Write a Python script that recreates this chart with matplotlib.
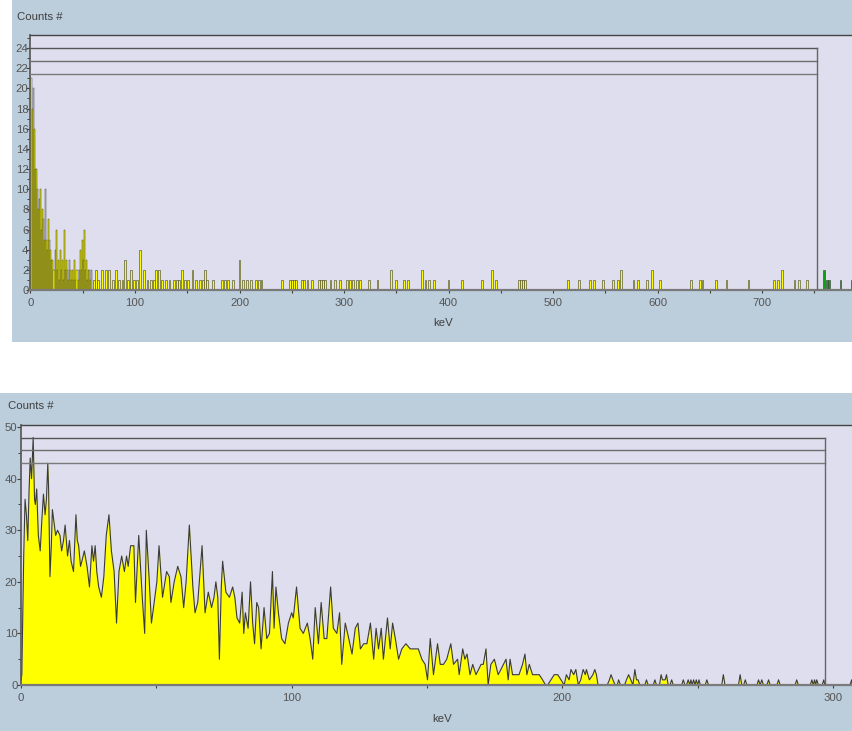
import matplotlib.pyplot as plt
from matplotlib.patches import Rectangle
from matplotlib.ticker import MultipleLocator

plt.rcParams['font.family'] = ['Liberation Sans', 'DejaVu Sans']

# Spectrum 1 (0 - 790 keV): channel counts, dense part 1 keV per bin from 0 keV
top_dense_counts = [21, 18, 20, 16, 12, 12, 10, 8, 9, 10,
                    6, 8, 7, 5, 10, 5, 4, 7, 5, 4,
                    3, 3, 2, 4, 6, 2, 3, 1, 4, 2,
                    3, 1, 6, 2, 3, 2, 1, 3, 2, 1,
                    2, 1, 3, 1, 2, 1, 2, 4, 2, 5,
                    3, 6, 2, 3, 1, 2, 2, 1, 2, 0]
# sparse channels above 60 keV
top_sparse_kev = [61, 63, 65, 68, 72, 75, 79, 82, 85, 88, 90, 93, 96, 99, 102, 105,
                  109, 112, 115, 118, 120, 123, 126, 130, 133, 137, 140, 142, 145, 148,
                  151, 155, 158, 162, 165, 167, 169, 175, 183, 186, 189, 194, 200, 203,
                  207, 211, 216, 219, 221, 241, 248, 250, 252, 254, 260, 262, 265, 269,
                  276, 278, 280, 282, 287, 291, 296, 303, 306, 309, 312, 315, 324, 332,
                  345, 350, 357, 361, 375, 378, 381, 386, 400, 413, 432, 442, 445, 467,
                  469, 471, 473, 514, 525, 535, 539, 548, 557, 562, 565, 577, 581, 590,
                  595, 602, 632, 641, 643, 656, 666, 687, 711, 715, 719, 731, 735, 743,
                  759, 762, 764, 775, 786]
top_sparse_counts = [1, 2, 1, 2, 2, 2, 1, 2, 1, 1, 3, 1, 2, 1, 1, 4,
                     2, 1, 1, 1, 2, 2, 1, 1, 1, 1, 1, 1, 2, 1,
                     1, 2, 1, 1, 1, 2, 1, 1, 1, 1, 1, 1, 3, 1,
                     1, 1, 1, 1, 1, 1, 1, 1, 1, 1, 1, 1, 1, 1,
                     1, 1, 1, 1, 1, 1, 1, 1, 1, 1, 1, 1, 1, 1,
                     2, 1, 1, 1, 2, 1, 1, 1, 1, 1, 1, 2, 1, 1,
                     1, 1, 1, 1, 1, 1, 1, 1, 1, 1, 2, 1, 1, 1,
                     2, 1, 1, 1, 1, 1, 1, 1, 1, 1, 2, 1, 1, 1,
                     2, 1, 1, 1, 1]
top_roi_end = 753
top_roi_levels = [24.0, 22.75, 21.45]

# Spectrum 2 (0 - 307 keV)
bottom_kev = [0.0, 0.3, 0.7, 1.0, 1.5, 2.0, 2.5, 3.0, 3.4, 3.9, 4.5, 5.0, 5.3, 5.8, 6.4,
              7.1, 7.7, 8.3, 8.9, 9.4, 9.9, 10.2, 10.7, 11.2, 11.6, 12.3, 12.8, 13.5,
              14.4, 15.0, 15.7, 16.3, 17.2, 17.9, 18.5, 19.4, 20.3, 20.8, 21.3, 22.0,
              22.5, 23.4, 24.4, 25.3, 26.2, 26.8, 27.4, 28.0, 28.7, 29.7, 30.6, 31.5,
              32.5, 33.4, 34.4, 35.3, 36.2, 37.2, 38.2, 39.0, 39.6, 40.5, 41.7, 42.3,
              43.5, 44.8, 45.7, 46.3, 47.3, 48.2, 49.2, 50.2, 51.0, 52.3, 53.8, 54.8,
              55.4, 56.6, 57.9, 59.1, 60.1, 61.0, 62.2, 63.5, 64.3, 65.3, 66.9, 68.0,
              69.2, 70.4, 71.3, 72.0, 72.7, 73.3, 74.0, 74.5, 75.7, 77.0, 78.2, 79.0,
              79.8, 80.8, 81.7, 82.3, 82.9, 83.9, 84.8, 85.6, 86.3, 87.1, 87.8, 88.7,
              89.8, 90.8, 91.8, 92.9, 93.5, 94.2, 95.1, 96.3, 97.5, 98.8, 100.0, 100.6,
              101.8, 103.1, 104.3, 105.8, 106.8, 107.8, 108.7, 109.9, 110.9, 112.0,
              113.0, 114.4, 115.4, 116.7, 117.7, 118.5, 119.8, 121.1, 122.3, 123.5,
              124.5, 125.4, 126.6, 127.8, 129.1, 130.3, 131.2, 132.1, 133.1, 133.9,
              135.4, 136.4, 137.3, 138.3, 139.5, 140.7, 142.2, 143.8, 145.0, 146.8,
              148.1, 149.3, 150.2, 151.2, 152.4, 153.9, 154.9, 156.1, 157.3, 158.8,
              159.8, 161.3, 161.9, 163.2, 164.0, 164.8, 165.9, 166.9, 168.1, 170.0,
              170.8, 171.8, 172.6, 173.6, 174.9, 176.3, 177.3, 179.2, 180.0, 180.7,
              181.6, 182.8, 184.0, 185.3, 186.2, 186.9, 187.8, 189.0, 190.2, 191.5,
              192.7, 193.8, 194.6, 195.8, 197.0, 198.3, 199.5, 200.7, 201.5, 202.5,
              203.2, 204.2, 205.0, 205.9, 206.8, 207.7, 208.5, 208.9, 210.0, 211.3,
              212.0, 212.6, 213.2, 216.6, 217.4, 218.0, 218.7, 219.5, 220.3, 220.8,
              221.5, 223.0, 223.7, 224.5, 225.3, 226.1, 226.8, 227.4, 228.0, 228.6,
              230.5, 231.1, 231.7, 233.6, 234.2, 234.8, 235.9, 236.5, 237.0, 237.5,
              238.0, 238.5, 239.1, 239.8, 240.4, 241.0, 244.1, 244.7, 245.3, 245.9,
              246.5, 247.1, 247.5, 248.0, 248.5, 249.0, 249.5, 250.0, 250.5, 251.0,
              252.8, 253.4, 254.0, 258.9, 259.5, 260.1, 265.1, 265.7, 266.3, 267.0,
              267.6, 268.2, 271.9, 272.5, 273.1, 273.7, 274.3, 275.6, 276.2, 276.8,
              279.3, 279.9, 280.5, 286.0, 286.6, 287.2, 291.6, 292.2, 292.7, 293.2,
              293.6, 294.0, 294.6, 296.0, 296.6, 297.0, 306.3, 306.9, 307.4]
bottom_counts = [1, 2, 15, 25, 36, 33, 28, 38, 44, 40, 48, 36, 35, 38, 29,
                 26, 32, 37, 33, 36, 43, 38, 21, 27, 34, 31, 29, 30,
                 29, 26, 28, 31, 25, 28, 24, 22, 33, 28, 27, 23,
                 24, 26, 23, 19, 27, 24, 27, 22, 19, 17, 21, 29,
                 33, 26, 22, 12, 22, 25, 22, 25, 23, 27, 27, 16,
                 29, 17, 10, 30, 21, 12, 16, 20, 27, 17, 22, 21,
                 16, 20, 23, 21, 15, 20, 31, 19, 14, 16, 27, 14,
                 18, 15, 17, 20, 17, 5, 19, 24, 18, 17, 19, 17,
                 13, 12, 18, 10, 14, 11, 20, 12, 8, 16, 15, 7,
                 15, 9, 10, 22, 11, 19, 14, 9, 8, 12, 14, 13,
                 19, 11, 10, 12, 9, 5, 15, 8, 16, 9,
                 9, 19, 11, 10, 14, 4, 12, 9, 6, 11,
                 12, 7, 8, 8, 12, 5, 11, 7, 11, 5,
                 13, 7, 12, 9, 5, 7, 8, 7, 7, 7,
                 5, 4, 1, 9, 2, 8, 4, 4, 5, 8,
                 4, 5, 2, 7, 5, 6, 2, 4, 2, 4,
                 4, 7, 0, 4, 5, 2, 3, 5, 1, 5,
                 2, 2, 2, 4, 6, 2, 4, 2, 2, 2,
                 1, 0, 0, 1, 2, 2, 1, 0, 2, 1,
                 3, 2, 3, 0, 1, 3, 2, 3, 1, 2,
                 3, 2, 0, 0, 1, 2, 1, 0, 0, 1,
                 0, 0, 1, 2, 1, 0, 3, 1, 1, 0,
                 0, 1, 0, 0, 1, 0, 0, 2, 1, 1,
                 1, 2, 0, 0, 1, 0, 0, 1, 0, 0,
                 1, 0, 1, 0, 1, 0, 1, 0, 1, 0,
                 0, 1, 0, 0, 2, 0, 0, 2, 0, 0,
                 1, 0, 0, 1, 0, 1, 0, 0, 1, 0,
                 0, 1, 0, 0, 1, 0, 0, 1, 0, 1,
                 0, 1, 0, 0, 1, 0, 0, 1, 0]
bottom_roi_end = 297
bottom_roi_levels = [47.9, 45.5, 43.0]

W, H = 853, 731
PANEL = '#bccddc'
PLOT = '#dedeee'
YELLOW = '#ffff00'
GREEN = '#10a010'
EDGE = '#3a3a3a'

fig = plt.figure(figsize=(W / 100, H / 100), dpi=100)
fig.patch.set_facecolor('white')


def px_rect(x0, y0, x1, y1):
    # pixel box (from top-left) -> figure fractions
    return [x0 / W, 1 - y1 / H, (x1 - x0) / W, (y1 - y0) / H]


for box in [(12, 0, W, 342), (0, 393, W, H)]:
    l, b, w, h = px_rect(*box)
    fig.patches.append(Rectangle((l, b), w, h, transform=fig.transFigure,
                                 facecolor=PANEL, edgecolor='none', zorder=-5))


def style_axes(ax, ymajor, yminor, ylen, ypad):
    ax.set_zorder(2)
    ax.set_facecolor(PLOT)
    ax.spines['right'].set_visible(False)
    ax.spines['top'].set_color('#454545')
    ax.spines['top'].set_linewidth(1.0)
    ax.spines['left'].set_color('#555555')
    ax.spines['left'].set_linewidth(1.2)
    ax.spines['bottom'].set_color('#7a7a7a')
    ax.spines['bottom'].set_linewidth(1.6)
    ax.xaxis.set_major_locator(MultipleLocator(100))
    ax.xaxis.set_minor_locator(MultipleLocator(50))
    ax.yaxis.set_major_locator(MultipleLocator(ymajor))
    ax.yaxis.set_minor_locator(MultipleLocator(yminor))
    ax.tick_params(axis='y', which='major', length=ylen, width=0.8, color='#404040',
                   labelsize=8.2, labelcolor='#555555', pad=ypad)
    ax.tick_params(axis='y', which='minor', length=ylen * 0.8, width=0.7, color='#404040')
    ax.tick_params(axis='x', which='both', length=2, width=0.8, color='#404040',
                   labelsize=8.2, labelcolor='#555555', pad=3.5)


def draw_roi(ax, end, levels):
    shades = ['#555555', '#6e6e6e', '#7a7a7a']
    for lev, c in zip(levels, shades):
        ax.plot([0, end], [lev, lev], color=c, lw=1.0, zorder=3)
    ax.plot([end, end], [0, levels[0]], color='#666666', lw=1.0, zorder=3)


# ---- top spectrum ----
ax1 = fig.add_axes(px_rect(30.5, 35, W, 290))
style_axes(ax1, 2, 1, 3, -1.5)
ax1.set_xlim(0, 787)
ax1.set_ylim(0, 25.3)

dense_kev = list(range(len(top_dense_counts)))
ax1.bar(dense_kev, top_dense_counts, width=1.0, align='edge', color=YELLOW,
        edgecolor='#303030', linewidth=0.3, zorder=2)
in_k = [k for k in top_sparse_kev if k <= top_roi_end]
in_c = [c for k, c in zip(top_sparse_kev, top_sparse_counts) if k <= top_roi_end]
out_k = [k for k in top_sparse_kev if k > top_roi_end]
out_c = [c for k, c in zip(top_sparse_kev, top_sparse_counts) if k > top_roi_end]
ax1.bar(in_k, in_c, width=1.8, color=YELLOW, edgecolor=EDGE, linewidth=0.4, zorder=2)
ax1.bar(out_k, out_c, width=1.8, color=GREEN, edgecolor=EDGE, linewidth=0.4, zorder=2)
draw_roi(ax1, top_roi_end, top_roi_levels)

# ---- bottom spectrum ----
ax2 = fig.add_axes(px_rect(21, 425, W, 685))
style_axes(ax2, 10, 5, 2.6, 0)
ax2.set_xlim(0, 307.4)
ax2.set_ylim(0, 50.4)

roi_k = [k for k in bottom_kev if k <= bottom_roi_end]
roi_c = bottom_counts[:len(roi_k)]
ax2.fill_between(roi_k, roi_c, 0, color=YELLOW, lw=0, zorder=2)
ax2.fill_between(bottom_kev[len(roi_k):], bottom_counts[len(roi_k):], 0,
                 color=GREEN, lw=0, zorder=2)
ax2.plot(bottom_kev, bottom_counts, color=EDGE, lw=0.8, zorder=2)
draw_roi(ax2, bottom_roi_end, bottom_roi_levels)

# ---- labels ----
txt = dict(fontsize=8.2, color='#404040')
fig.text(17 / W, 1 - 17 / H, 'Counts #', ha='left', va='center', **txt)
fig.text(8 / W, 1 - 406 / H, 'Counts #', ha='left', va='center', **txt)
fig.text(443 / W, 1 - 323 / H, 'keV', ha='center', va='center', **txt)
fig.text(442 / W, 1 - 719 / H, 'keV', ha='center', va='center', **txt)

fig.savefig('out.png', dpi=100)
